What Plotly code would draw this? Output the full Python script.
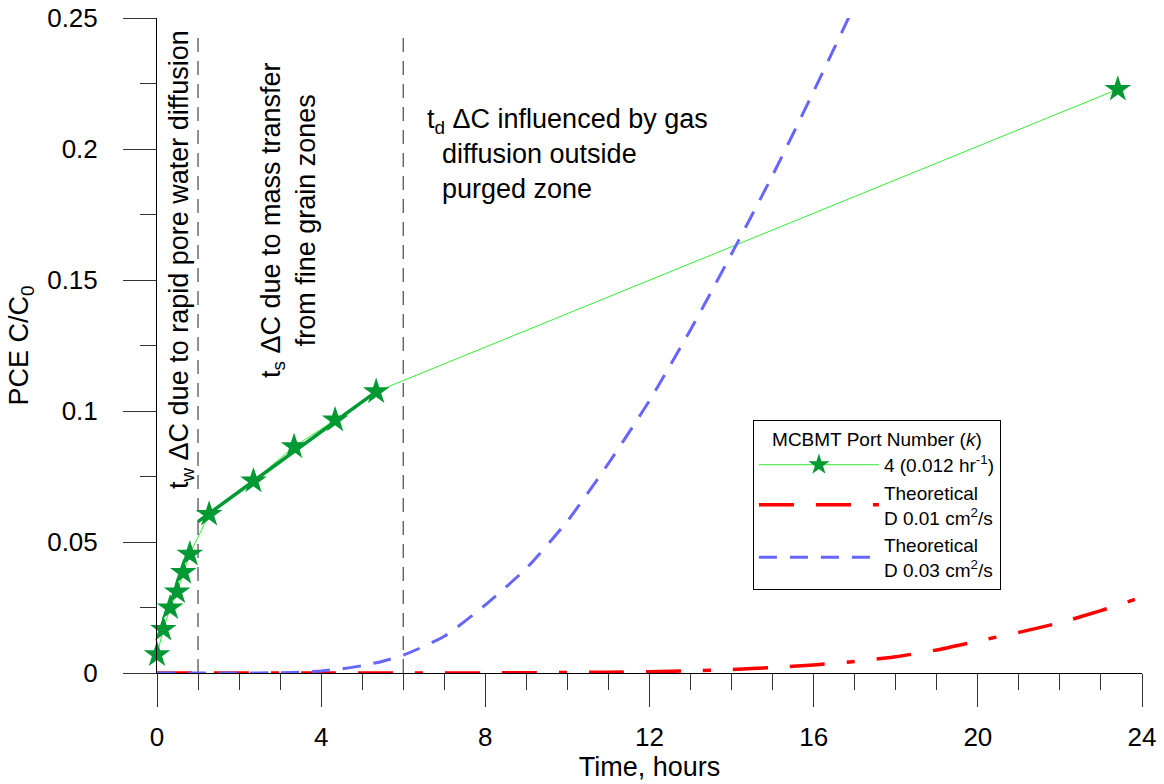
import plotly.graph_objects as go

# Observed data (MCBMT port 4)
time_obs = [0.0, 0.155, 0.32, 0.49, 0.64, 0.80, 1.27, 2.35, 3.34, 4.34, 5.34, 23.41]
conc_obs = [0.007, 0.0167, 0.0249, 0.031, 0.0384, 0.0454, 0.0606, 0.0733, 0.0864, 0.0966, 0.1074, 0.2228]

# Fitted segment over the t_s interval
fit_time = [1.0, 5.34]
fit_conc = [0.0578, 0.1074]

# Theoretical curve D = 0.01 cm2/s
time_d001 = [0, 1, 2, 3, 4, 5, 6, 7, 8, 9, 10, 11, 12, 13, 14, 15, 16, 17, 18, 19, 20, 21, 22, 23, 24]
conc_d001 = [0, 0, 0, 0, 0, 0, 0, 0, 0.00005, 0.0001, 0.0002, 0.0003, 0.0005, 0.0008, 0.0013, 0.0021,
             0.0031, 0.0044, 0.0062, 0.0088, 0.0122, 0.0155, 0.0192, 0.0238, 0.0290]

# Theoretical curve D = 0.03 cm2/s
time_d003 = [0, 1, 2, 3, 3.5, 4, 4.5, 5, 5.5, 6, 7, 8, 9, 10, 11, 12, 13, 14, 15, 16, 17, 18]
conc_d003 = [0, 0, 0, 0.0001, 0.0003, 0.0008, 0.0016, 0.0028, 0.0045, 0.0068, 0.0140, 0.026, 0.040,
             0.058, 0.080, 0.104, 0.131, 0.160, 0.190, 0.222, 0.255, 0.288]

# Phase boundaries (hours)
phase_bounds = [1, 6]

FONT = "Arial, Liberation Sans, sans-serif"

fig = go.Figure()

fig.add_trace(go.Scatter(
    x=time_obs, y=conc_obs, mode="lines+markers",
    name="4 (0.012 hr<sup>-1</sup>)",
    line=dict(color="#33ee33", width=1),
    marker=dict(symbol="star", size=20, color="#009933", line=dict(width=0)),
    cliponaxis=False,
))
fig.add_trace(go.Scatter(
    x=fit_time, y=fit_conc, mode="lines", showlegend=False,
    line=dict(color="#009933", width=3.5),
))
fig.add_trace(go.Scatter(
    x=time_d001, y=conc_d001, mode="lines",
    name="Theoretical<br>D 0.01 cm<sup>2</sup>/s",
    line=dict(color="#ff0000", width=3.5, dash="35px,22px,35px,22px,8px,22px", shape="spline", smoothing=0.6),
))
fig.add_trace(go.Scatter(
    x=time_d003, y=conc_d003, mode="lines",
    name="Theoretical<br>D 0.03 cm<sup>2</sup>/s",
    line=dict(color="#6666ff", width=3, dash="18px,13px", shape="spline", smoothing=0.6),
))

for xb in phase_bounds:
    fig.add_shape(type="line", x0=xb, x1=xb, y0=0, y1=0.245, xref="x", yref="y",
                  line=dict(color="#555555", width=1.3, dash="14px,9px"), layer="below")

fig.add_annotation(x=0.585, y=0.1576, xref="x", yref="y", textangle=-90, showarrow=False,
                   text="t<sub>w</sub> ΔC due to rapid pore water diffusion",
                   font=dict(size=27, color="black", family=FONT))
fig.add_annotation(x=3.2, y=0.173, xref="x", yref="y", textangle=-90, showarrow=False,
                   text="t<sub>s</sub> ΔC due to mass transfer<br>from fine grain zones",
                   font=dict(size=27, color="black", family=FONT), align="center")
fig.add_annotation(x=6.53, y=0.198, xref="x", yref="y", xanchor="left", yanchor="middle", showarrow=False,
                   text="t<sub>d</sub> ΔC influenced by gas<br>&nbsp;&nbsp;diffusion outside<br>&nbsp;&nbsp;purged zone",
                   font=dict(size=27, color="black", family=FONT), align="left")

axis_common = dict(
    showline=True, linecolor="black", linewidth=1,
    ticks="outside", ticklen=33, tickwidth=1, tickcolor="#333333",
    showgrid=False, zeroline=False, automargin=False,
    tickfont=dict(size=26, color="black", family=FONT),
)

fig.update_xaxes(range=[0, 24], dtick=4, tick0=0, ticklabelstandoff=8,
                 minor=dict(dtick=1, ticklen=16, ticks="outside", tickcolor="#333333", showgrid=False),
                 title=dict(text="Time, hours", font=dict(size=27, color="black", family=FONT), standoff=0),
                 **axis_common)
fig.update_yaxes(range=[0, 0.25], dtick=0.05, tick0=0, ticklabelstandoff=20,
                 minor=dict(dtick=0.025, ticklen=16, ticks="outside", tickcolor="#333333", showgrid=False),
                 title=dict(text="PCE C/C<sub>0</sub>", font=dict(size=27, color="black", family=FONT), standoff=10),
                 **axis_common)

fig.update_layout(
    width=1164, height=784,
    margin=dict(l=157, r=22, t=18, b=111, autoexpand=False),
    paper_bgcolor="white", plot_bgcolor="white",
    font=dict(family=FONT, color="black"),
    legend=dict(
        x=0.605, y=0.386, xanchor="left", yanchor="top",
        bgcolor="white", bordercolor="black", borderwidth=1,
        font=dict(size=19, color="black", family=FONT),
        title=dict(text="MCBMT Port Number (<i>k</i>)", side="top center",
                   font=dict(size=19, color="black", family=FONT)),
        itemwidth=120, tracegroupgap=4,
    ),
)

fig.write_html("out.html")
